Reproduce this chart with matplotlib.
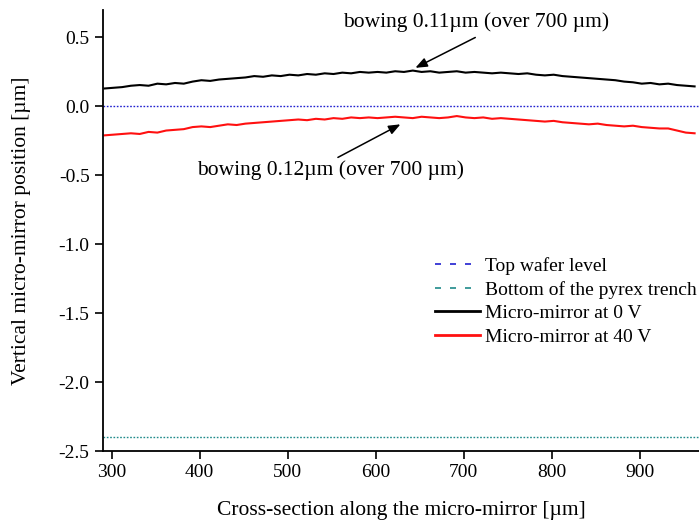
import matplotlib.pyplot as plt
from matplotlib.lines import Line2D

plt.rcParams['font.family'] = ['Liberation Serif', 'DejaVu Serif']

# cross-section positions [um]
x_pos = list(range(292, 972, 10))

# micro-mirror profile at 0 V
mirror_0v = [0.13, 0.135, 0.14, 0.15, 0.155, 0.15, 0.165, 0.16, 0.17, 0.165,
             0.18, 0.19, 0.185, 0.195, 0.20, 0.205, 0.21, 0.22, 0.215, 0.225,
             0.22, 0.23, 0.225, 0.235, 0.23, 0.24, 0.235, 0.245, 0.24, 0.25,
             0.245, 0.25, 0.245, 0.255, 0.25, 0.26, 0.25, 0.255, 0.245, 0.25,
             0.255, 0.245, 0.25, 0.245, 0.24, 0.245, 0.24, 0.235, 0.24, 0.23,
             0.225, 0.23, 0.22, 0.215, 0.21, 0.205, 0.20, 0.195, 0.19, 0.18,
             0.175, 0.165, 0.17, 0.16, 0.165, 0.155, 0.15, 0.145]

# micro-mirror profile at 40 V
mirror_40v = [-0.21, -0.205, -0.20, -0.195, -0.20, -0.185, -0.19, -0.175, -0.17, -0.165,
              -0.15, -0.145, -0.15, -0.14, -0.13, -0.135, -0.125, -0.12, -0.115, -0.11,
              -0.105, -0.10, -0.095, -0.10, -0.09, -0.095, -0.085, -0.09, -0.08, -0.085,
              -0.08, -0.085, -0.08, -0.075, -0.08, -0.085, -0.075, -0.08, -0.085, -0.08,
              -0.07, -0.08, -0.085, -0.08, -0.09, -0.085, -0.09, -0.095, -0.10, -0.105,
              -0.11, -0.105, -0.115, -0.12, -0.125, -0.13, -0.125, -0.135, -0.14, -0.145,
              -0.14, -0.15, -0.155, -0.16, -0.16, -0.175, -0.19, -0.195]

top_wafer = 0.0
pyrex_bottom = -2.4

fig = plt.figure(figsize=(6.99, 5.22), dpi=100)
ax = fig.add_axes([0.147, 0.136, 0.853, 0.845])

ax.axhline(top_wafer, color='#2020d0', lw=1, dashes=(1.2, 1.2))
ax.axhline(pyrex_bottom, color='#1f8a8a', lw=1, dashes=(1.2, 1.2))
ax.plot(x_pos, mirror_0v, color='black', lw=1.5)
ax.plot(x_pos, mirror_40v, color='#ff1010', lw=1.5)

ax.set_xlim(290, 967)
ax.set_ylim(-2.5, 0.7)
ax.set_xticks([300, 400, 500, 600, 700, 800, 900])
ax.set_yticks([0.5, 0.0, -0.5, -1.0, -1.5, -2.0, -2.5])
ax.yaxis.set_major_formatter(plt.FuncFormatter(lambda v, p: f"{v:.1f}"))
ax.tick_params(direction='out', length=6, width=1.2, labelsize=14)
ax.spines['top'].set_visible(False)
ax.spines['right'].set_visible(False)
ax.spines['left'].set_linewidth(1.3)
ax.spines['bottom'].set_linewidth(1.3)

ax.set_xlabel('Cross-section along the micro-mirror [µm]', fontsize=15.5, labelpad=14)
ax.set_ylabel('Vertical micro-mirror position [µm]', fontsize=15.5, labelpad=20)

# bowing annotations
ax.text(714, 0.61, 'bowing 0.11µm (over 700 µm)', fontsize=15.5, ha='center', va='center')
ax.annotate('', xy=(645, 0.28), xytext=(713, 0.50),
            arrowprops=dict(arrowstyle='-|>,head_length=0.5,head_width=0.2', color='black',
                            lw=1.1, shrinkA=0, shrinkB=0, mutation_scale=14))
ax.text(549, -0.464, 'bowing 0.12µm (over 700 µm)', fontsize=15.5, ha='center', va='center')
ax.annotate('', xy=(628, -0.13), xytext=(557, -0.37),
            arrowprops=dict(arrowstyle='-|>,head_length=0.5,head_width=0.2', color='black',
                            lw=1.1, shrinkA=0, shrinkB=0, mutation_scale=14))

handles = [
    Line2D([], [], color='#2020d0', lw=1.2, dashes=(3.6, 5.4)),
    Line2D([], [], color='#1f8a8a', lw=1.2, dashes=(3.6, 5.4)),
    Line2D([], [], color='black', lw=2),
    Line2D([], [], color='#ff1010', lw=2),
]
labels = ['Top wafer level', 'Bottom of the pyrex trench',
          'Micro-mirror at 0 V', 'Micro-mirror at 40 V']
ax.legend(handles, labels, loc='upper left', bbox_to_anchor=(0.545, 0.457),
          frameon=False, fontsize=14, handlelength=2.3, handletextpad=0.25,
          labelspacing=0.3, borderaxespad=0)

fig.savefig('out.png', dpi=100)
